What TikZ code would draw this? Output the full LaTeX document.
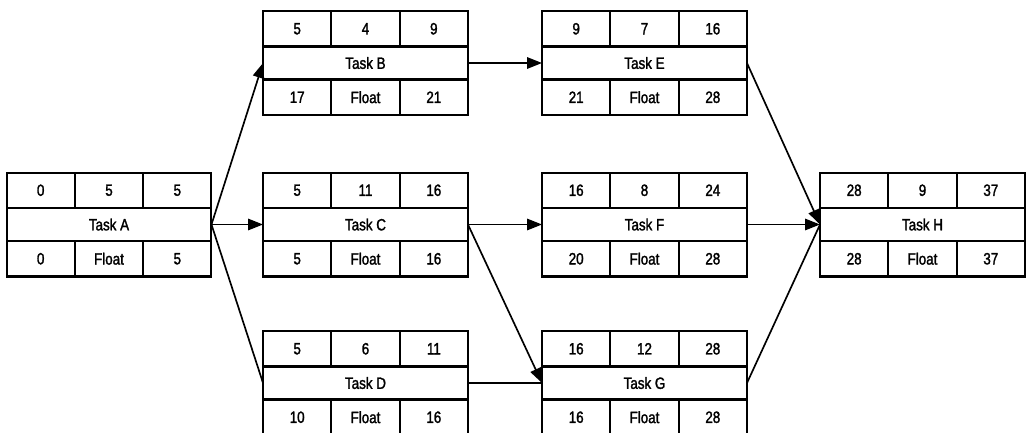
\documentclass[tikz,border=0pt]{standalone}
\usepackage{fontspec}
\setmainfont{Liberation Sans}[FakeStretch=0.82,FakeBold=1.6]
\usetikzlibrary{arrows.meta}

% one task: early start, duration, early finish on top, name in the middle,
% late start, float, late finish below
\newcommand{\taskbox}[8]{%
    \node[taskmid] (#1) at #2 {#8};
    \node[taskcell, anchor=south west] (#1-es) at (#1.north west) {#3};
    \node[taskcell, anchor=west] (#1-dur) at (#1-es.east) {#4};
    \node[taskcell, anchor=west] (#1-ef) at (#1-dur.east) {#5};
    \node[taskcell, anchor=north west] (#1-ls) at (#1.south west) {#6};
    \node[taskcell, anchor=west] (#1-fl) at (#1-ls.east) {Float};
    \node[taskcell, anchor=west] (#1-lf) at (#1-fl.east) {#7};
}

\begin{document}
\begin{tikzpicture}[x=0.02cm, y=-0.02cm,
    font=\fontsize{9.3}{10}\selectfont,
    taskmid/.style={draw, line width=1.15pt, outer sep=0pt, inner sep=0pt,
        minimum width=4.1cm, minimum height=0.66cm},
    taskcell/.style={draw, line width=1.15pt, outer sep=0pt, inner sep=0pt,
        minimum width=4.1cm/3, minimum height=0.71cm},
    link/.style={line width=0.95pt},
    arr/.style={link, -{Triangle[length=8.5pt,width=6.5pt]}}]

    \useasboundingbox (0,0) rectangle (1029,433);

    % Tasks
    \taskbox{A}{(109,224.5)}{0}{5}{5}{0}{5}{Task A}
    \taskbox{B}{(365.5,63)}{5}{4}{9}{17}{21}{Task B}
    \taskbox{C}{(365.5,224.5)}{5}{11}{16}{5}{16}{Task C}
    \taskbox{D}{(365.5,383)}{5}{6}{11}{10}{16}{Task D}
    \taskbox{E}{(644.5,63)}{9}{7}{16}{21}{28}{Task E}
    \taskbox{F}{(644.5,224.5)}{16}{8}{24}{20}{28}{Task F}
    \taskbox{G}{(644.5,383)}{16}{12}{28}{16}{28}{Task G}
    \taskbox{H}{(922.5,224.5)}{28}{9}{37}{28}{37}{Task H}

    % Dependencies
    \draw[arr] (A.east) -- (B.west);
    \draw[arr] (A.east) -- (C.west);
    \draw[link] (A.east) -- (D.west);
    \draw[arr] (B.east) -- (E.west);
    \draw[arr] (C.east) -- (F.west);
    \draw[arr] (C.east) -- (G.west);
    \draw[link] (D.east) -- (G.west);
    \draw[arr] (E.east) -- (H.west);
    \draw[arr] (F.east) -- (H.west);
    \draw[link] (G.east) -- (H.west);

\end{tikzpicture}
\end{document}
